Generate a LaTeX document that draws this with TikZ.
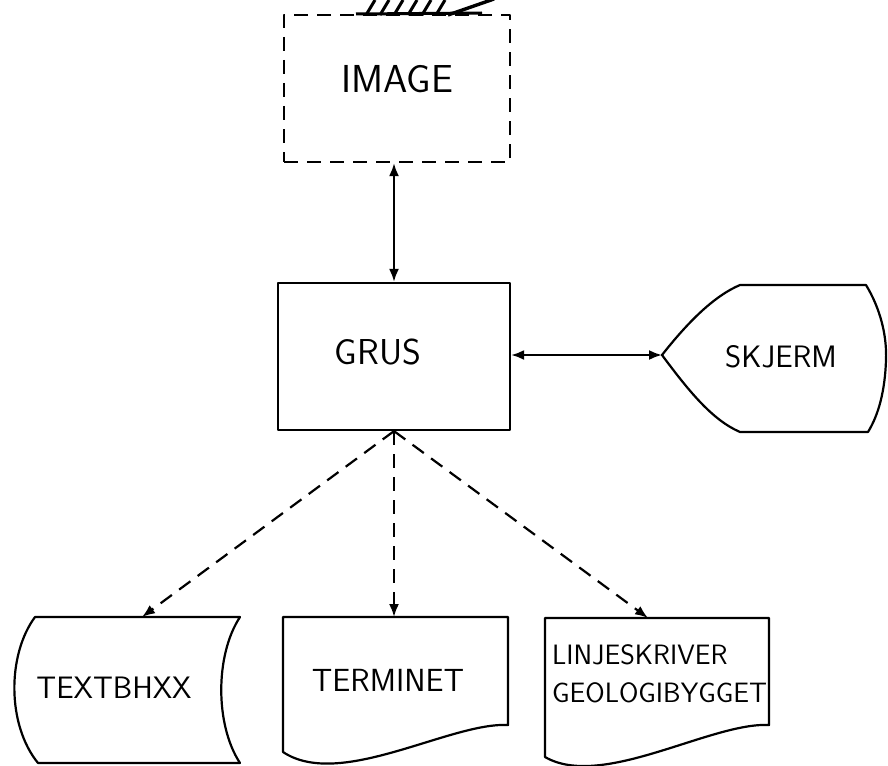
\documentclass[tikz,border=0pt]{standalone}
\usetikzlibrary{arrows.meta}
\begin{document}
\begin{tikzpicture}[x=1pt,y=-1pt,
  line width=2.2pt, line join=round,
  lbl/.style={font=\sffamily\fontsize{31}{36}\selectfont, inner sep=0pt},
  smalllbl/.style={font=\sffamily\fontsize{28}{33}\selectfont, inner sep=0pt, anchor=west},
  boxnode/.style={draw, rectangle, inner sep=0pt},
  dashbox/.style={boxnode, dash pattern=on 14pt off 9pt},
  tip/.style={-{Latex[length=13pt,width=10pt]}},
  dbltip/.style={{Latex[length=13pt,width=10pt]}-{Latex[length=13pt,width=10pt]}},
  dashflow/.style={tip, dash pattern=on 14pt off 9pt}]
\useasboundingbox (0,0) rectangle (888,765);

% dashed IMAGE box with the crossed-out word on its top edge
\node[dashbox, minimum width=226pt, minimum height=147pt] (image) at (397,88.5) {};
\node[lbl, font=\sffamily\fontsize{39}{44}\selectfont] (imagetxt) at (397,79) {IMAGE};
\draw[line width=3pt] (356,14) -- (482,13);
\foreach \sx in {366,380,394,408,422,436}
  \draw[line width=3pt] (\sx,15) -- (\sx+9,0);
\draw[line width=3.4pt] (448,15) -- (494,-1);

% GRUS box
\node[boxnode, minimum width=232pt, minimum height=147pt] (grus) at (394,356.5) {};
\node[lbl, font=\sffamily\fontsize{36}{40}\selectfont] (grustxt) at (378,352) {GRUS};

% SKJERM display shape
\draw (662,355) coordinate (skjerm)
  .. controls (688,322) and (714,296) .. (740,285) -- (866,285)
  .. controls (880,308) and (887,335) .. (886,360)
  .. controls (885,390) and (879,414) .. (868,432) -- (740,432)
  .. controls (712,420) and (688,390) .. (662,355) -- cycle;
\node[lbl] (skjermtxt) at (781,357) {SKJERM};

% TEXTBHXX stored data shape
\draw (35,617) -- (240,617)
  .. controls (215,655) and (215,725) .. (240,763) -- (38,763)
  .. controls (7,725) and (7,655) .. (35,617) -- cycle;
\coordinate (textb) at (142,617);
\node[lbl] (textbtxt) at (114,688) {TEXTBHXX};

% TERMINET document shape
\draw (283,617) -- (508,617) -- (508,725)
  .. controls (450,722) and (340,790) .. (283,752) -- cycle;
\coordinate (termi) at (394,617);
\node[lbl, font=\sffamily\fontsize{32}{36}\selectfont] (termitxt) at (388,680) {TERMINET};

% LINJESKRIVER document shape
\draw (545,618) -- (769,618) -- (769,725)
  .. controls (711,722) and (602,790) .. (545,757) -- cycle;
\coordinate (linje) at (648,618);
\node[smalllbl] (linjetxt) at (551,655) {LINJESKRIVER};
\node[smalllbl] (geotxt) at (551,693) {GEOLOGIBYGGET};

% connectors
\draw[dbltip] (grus.north |- image.south) -- (grus.north);
\draw[dbltip] (grus.east |- skjerm) -- (skjerm);
\draw[dashflow] (grus.south) -- (textb);
\draw[dashflow] (grus.south) -- (termi);
\draw[dashflow] (grus.south) -- (linje);
\end{tikzpicture}
\end{document}
